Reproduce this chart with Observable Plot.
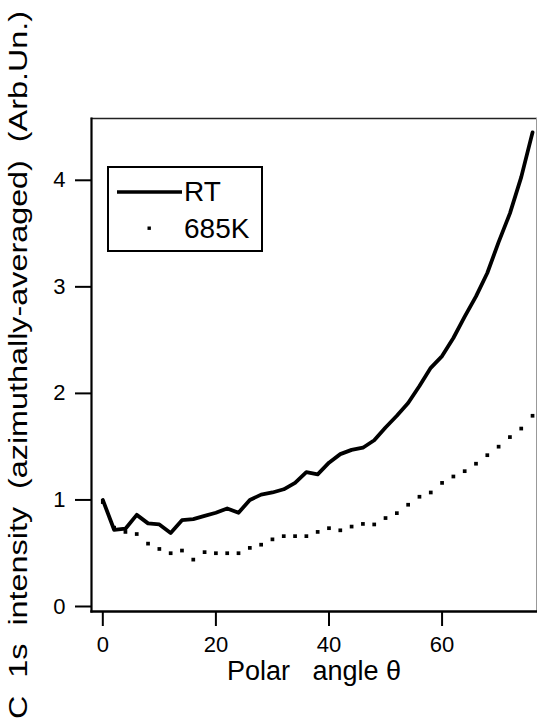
<!DOCTYPE html>
<html>
<head>
<meta charset="utf-8">
<script src="https://cdn.jsdelivr.net/npm/d3@7"></script>
<script src="https://cdn.jsdelivr.net/npm/@observablehq/plot@0.6"></script>
<style>
  body { margin: 0; background: #fff; }
  #wrap { position: relative; width: 537px; height: 723px; font-family: "Liberation Sans", Arial, Helvetica, sans-serif; }
  #legend { position: absolute; left: 106px; top: 165px; }
</style>
</head>
<body>
<div id="wrap"></div>
<script>
// ---- data ----
const theta = [0,2,4,6,8,10,12,14,16,18,20,22,24,26,28,30,32,34,36,38,40,42,44,46,48,50,52,54,56,58,60,62,64,66,68,70,72,74,76];
const rtValues = [1.00,0.72,0.73,0.86,0.78,0.77,0.69,0.81,0.82,0.85,0.88,0.92,0.88,1.00,1.05,1.07,1.10,1.16,1.26,1.24,1.35,1.43,1.47,1.49,1.56,1.68,1.79,1.91,2.07,2.24,2.35,2.52,2.72,2.91,3.13,3.42,3.69,4.03,4.45];
const k685Values = [0.98,0.74,0.70,0.68,0.59,0.54,0.50,0.525,0.44,0.51,0.50,0.50,0.50,0.55,0.58,0.63,0.66,0.66,0.66,0.70,0.735,0.715,0.75,0.775,0.77,0.83,0.876,0.955,1.03,1.07,1.16,1.22,1.27,1.34,1.42,1.50,1.59,1.67,1.79];
const seriesNames = ["RT", "685K"];
const xTicks = [0, 20, 40, 60];
const yTicks = [0, 1, 2, 3, 4];
const xLabel = "Polar\u00a0\u00a0\u00a0angle θ";
const yLabel = "C\u00a0\u00a01s\u00a0\u00a0intensity\u00a0\u00a0(azimuthally-averaged)\u00a0\u00a0(Arb.Un.)";

const rtData = theta.map((t, i) => ({theta: t, value: rtValues[i]}));
const k685Data = theta.map((t, i) => ({theta: t, value: k685Values[i]}));

const font = '"Liberation Sans", Arial, Helvetica, sans-serif';

const plot = Plot.plot({
  width: 537,
  height: 723,
  marginLeft: 91,
  marginRight: 1,
  marginTop: 118,
  marginBottom: 112,
  style: {fontFamily: font, background: "white", color: "black", overflow: "visible"},
  x: {domain: [-2, 76.7]},
  y: {domain: [-0.047, 4.58]},
  marks: [
    Plot.frame({anchor: "top", stroke: "#222", strokeWidth: 1.5}),
    Plot.frame({anchor: "right", stroke: "#999", strokeWidth: 1}),
    Plot.frame({anchor: "left", stroke: "black", strokeWidth: 2.2}),
    Plot.frame({anchor: "bottom", stroke: "black", strokeWidth: 2.4}),
    Plot.axisX({ticks: xTicks, tickFormat: d3.format("d"), tickSize: 15, tickPadding: 10, fontSize: 22, strokeWidth: 2,
      label: xLabel, labelAnchor: "center", labelOffset: 68, labelArrow: "none"}),
    Plot.axisY({ticks: yTicks, tickFormat: d3.format("d"), tickSize: 16, tickPadding: 10, fontSize: 22, strokeWidth: 2,
      label: yLabel, labelAnchor: "center", labelOffset: 82, labelArrow: "none"}),
    Plot.line(rtData, {x: "theta", y: "value", stroke: "black", strokeWidth: 3.8, strokeLinejoin: "round", strokeLinecap: "round"}),
    Plot.dot(k685Data, {x: "theta", y: "value", symbol: "square", r: 2.1, fill: "black", stroke: "none"})
  ]
});

document.getElementById("wrap").appendChild(plot);

// label styling
const svg = d3.select(plot);
svg.selectAll('g[aria-label="x-axis label"]').attr("font-size", 27).selectAll("text").attr("font-size", 27);
svg.selectAll('g[aria-label="y-axis label"]').attr("font-size", 25).selectAll("text")
  .attr("font-size", 25)
  .attr("textLength", 708)
  .attr("lengthAdjust", "spacingAndGlyphs");

// legend overlay
const legend = d3.select("#wrap").append("svg")
  .attr("id", "legend")
  .attr("width", 160).attr("height", 90)
  .style("font-family", font);
legend.append("rect").attr("x", 2).attr("y", 2).attr("width", 154).attr("height", 84)
  .attr("fill", "white").attr("stroke", "black").attr("stroke-width", 2);
legend.append("line").attr("x1", 11).attr("x2", 76).attr("y1", 27).attr("y2", 27)
  .attr("stroke", "black").attr("stroke-width", 3.6);
legend.append("text").attr("x", 78).attr("y", 36).attr("font-size", 28).text(seriesNames[0]);
legend.append("rect").attr("x", 41.5).attr("y", 61.5).attr("width", 3.4).attr("height", 3.4).attr("fill", "black");
legend.append("text").attr("x", 78).attr("y", 73).attr("font-size", 28).text(seriesNames[1]);
</script>
</body>
</html>
